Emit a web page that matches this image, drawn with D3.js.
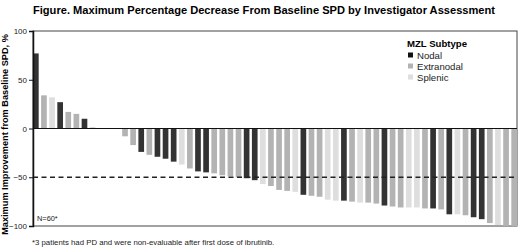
<!DOCTYPE html>
<html lang="en">
	<head>
		<meta charset="utf-8">
		<title>waterfall</title>
		<script type="text/javascript" src="https://d3js.org/d3.v7.min.js"></script>
		<style type="text/css">
			body{margin:0;background:#fff;font-family:Arial,"Liberation Sans",Helvetica,sans-serif;}
		</style>
	</head>
	<body>
		<div id="chart1"></div>
		<script type="text/javascript">
			// best change from baseline SPD, one value per patient (sorted)
			var values = [77,34,32,27,17,15,10,1,0,0,0,
				-8,-17,-24,-27,-29,-31,-34,-37,-41,-44,-45,-46,-48,-49,-50,
				-51,-53,-57,-59,-63,-64,-65,-68,-69,-70,-73,-74,
				-74,-75,-76,-76,-77,-79,-80,-81,-81,-81,-82,-82,-83,
				-88,-88,-89,-91,-93,-97,-99,-100,-100]
			// N = nodal, E = extranodal, S = splenic
			var subtypes = ["N","E","S","N","E","E","N","E","E","E","E",
				"E","E","N","E","N","N","N","S","E","N","N","E","E","E","E",
				"N","N","S","E","E","E","S","N","E","E","S","S",
				"N","E","S","E","E","N","E","E","S","S","E","N","E",
				"N","S","E","N","N","E","S","E","E"]
			var legendKeys = ["N","E","S"]
			var legendLabels = ["Nodal","Extranodal","Splenic"]
			var yTicks = [100,50,0,-50,-100]

			drawChart()

			function drawChart(){
				var w = 520
				var h = 251
				var left = 33, right = 517, top = 31, bottom = 226

				var xScale = d3.scaleBand().domain(d3.range(values.length)).range([left,right]).paddingInner(0.3).paddingOuter(0)
				var yScale = d3.scaleLinear().domain([-100,100]).range([bottom,top])
				var cScale = d3.scaleOrdinal().domain(legendKeys).range(["#333333","#b3b3b3","#dedede"])

				var svg = d3.select("#chart1")
							.append("svg")
							.attr("width",w)
							.attr("height",h)

				svg.append("text")
					.attr("x",264)
					.attr("y",14)
					.attr("text-anchor","middle")
					.style("font-weight","bold")
					.style("font-size","11.1px")
					.text("Figure. Maximum Percentage Decrease From Baseline SPD by Investigator Assessment")

				// frame
				svg.append("rect")
					.attr("x",left)
					.attr("y",top)
					.attr("width",right-left)
					.attr("height",bottom-top)
					.attr("fill","none")
					.attr("stroke","#444")
					.attr("stroke-width",1)

				svg.selectAll("rect.bar")
					.data(values)
					.enter()
					.append("rect")
					.attr("class","bar")
					.attr("x",function(d,i){
						return xScale(i)
					})
					.attr("y",function(d){
						return yScale(Math.max(d,0))
					})
					.attr("width",xScale.bandwidth())
					.attr("height",function(d){
						return Math.abs(yScale(d)-yScale(0))
					})
					.attr("fill",function(d,i){
						return cScale(subtypes[i])
					})

				// zero line
				svg.append("line")
					.attr("x1",left)
					.attr("x2",right)
					.attr("y1",yScale(0))
					.attr("y2",yScale(0))
					.attr("stroke","#111")
					.attr("stroke-width",1.2)

				// -50% threshold
				svg.append("line")
					.attr("x1",left)
					.attr("x2",right)
					.attr("y1",yScale(-50))
					.attr("y2",yScale(-50))
					.attr("stroke","#222")
					.attr("stroke-width",1.3)
					.attr("stroke-dasharray","5,3.5")

				var yAxis = d3.axisLeft(yScale).tickValues(yTicks).tickSize(4).tickPadding(2)
				var gy = svg.append("g")
					.attr("transform","translate("+left+",0)")
					.call(yAxis)
				gy.select(".domain").attr("stroke","#111").attr("stroke-width",1.5)
				gy.selectAll(".tick line").attr("stroke","#111")
				gy.selectAll(".tick text")
					.style("font-size","8px")
					.style("font-family","Arial, 'Liberation Sans', sans-serif")
					.attr("fill","#222")

				svg.append("text")
					.attr("transform","translate(8,"+(yScale(0)+6)+") rotate(-90)")
					.attr("text-anchor","middle")
					.style("font-weight","bold")
					.style("font-size","9.2px")
					.text("Maximum Improvement from Baseline SPD, %")

				svg.append("text")
					.attr("x",37)
					.attr("y",221)
					.style("font-size","7.4px")
					.attr("fill","#222")
					.text("N=60*")

				// legend
				var lg = svg.append("g").attr("transform","translate(407,0)")
				lg.append("text")
					.attr("x",0)
					.attr("y",47)
					.style("font-weight","bold")
					.style("font-size","9.6px")
					.text("MZL Subtype")
				var items = lg.selectAll("g.item")
					.data(legendKeys)
					.enter()
					.append("g")
					.attr("class","item")
					.attr("transform",function(d,i){
						return "translate(0,"+(55+i*11)+")"
					})
				items.append("rect")
					.attr("x",1)
					.attr("y",-2.5)
					.attr("width",5)
					.attr("height",5)
					.attr("fill",function(d){
						return d=="N" ? "#111" : cScale(d)
					})
				items.append("text")
					.attr("x",10)
					.attr("y",3.5)
					.style("font-size","9.6px")
					.attr("fill","#222")
					.text(function(d,i){
						return legendLabels[i]
					})

				svg.append("text")
					.attr("x",32)
					.attr("y",245)
					.style("font-size","7.8px")
					.attr("fill","#222")
					.text("*3 patients had PD and were non-evaluable after first dose of ibrutinib.")
			}
		</script>
	</body>
</html>
